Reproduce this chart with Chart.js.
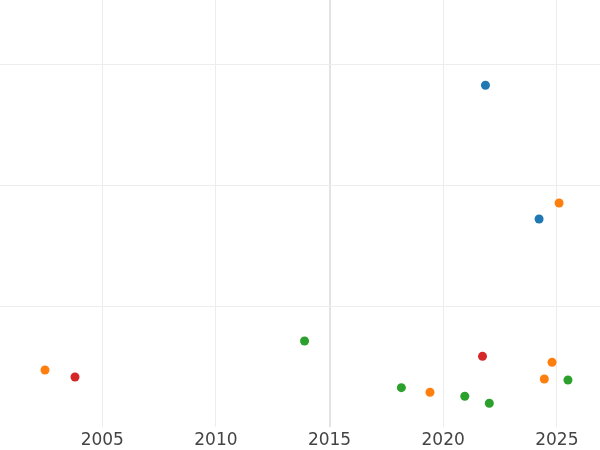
<!DOCTYPE html>
<html>
<head>
<meta charset="utf-8">
<script src="https://cdn.jsdelivr.net/npm/chart.js@4/dist/chart.umd.min.js"></script>
<style>
  html, body { margin: 0; padding: 0; background: #ffffff; }
  #wrap { width: 600px; height: 450px; position: relative; }
</style>
</head>
<body>
<div id="wrap"><canvas id="c"></canvas></div>
<script>
// Tick values
const xTicks = [2005, 2010, 2015, 2020, 2025];
const yTicks = [1, 2, 3];

// Series (x = year, y = value)
const blueX   = [2021.86, 2024.22];
const blueY   = [2.824, 1.719];
const orangeX = [2002.48, 2019.42, 2024.45, 2024.79, 2025.10];
const orangeY = [0.471, 0.287, 0.397, 0.535, 1.851];
const greenX  = [2013.90, 2018.16, 2020.95, 2022.03, 2025.49];
const greenY  = [0.711, 0.325, 0.254, 0.196, 0.388];
const redX    = [2003.80, 2021.73];
const redY    = [0.413, 0.584];

function pts(xs, ys) { return xs.map((x, i) => ({ x: x, y: ys[i] })); }
function ds(label, xs, ys, color) {
  return {
    label: label,
    data: pts(xs, ys),
    backgroundColor: color,
    borderColor: color,
    borderWidth: 0,
    pointRadius: 4.5,
    pointHoverRadius: 4.5
  };
}

new Chart(document.getElementById('c'), {
  type: 'scatter',
  data: {
    datasets: [
      ds('A', blueX, blueY, '#1f77b4'),
      ds('B', orangeX, orangeY, '#ff7f0e'),
      ds('C', greenX, greenY, '#2ca02c'),
      ds('D', redX, redY, '#d62728')
    ]
  },
  options: {
    responsive: true,
    maintainAspectRatio: false,
    animation: false,
    layout: { autoPadding: false, padding: { left: 0, right: 0, top: 0, bottom: 0 } },
    plugins: { legend: { display: false }, tooltip: { enabled: false } },
    scales: {
      x: {
        type: 'linear',
        min: 2000.5,
        max: 2026.9,
        afterBuildTicks: (s) => { s.ticks = xTicks.map(v => ({ value: v })); },
        afterFit: (s) => { s.height = 23; },
        grid: {
          color: (ctx) => (ctx.tick && ctx.tick.value === 2015) ? '#e3e3e3' : '#ededed',
          lineWidth: (ctx) => (ctx.tick && ctx.tick.value === 2015) ? 2 : 1,
          drawTicks: false
        },
        border: { display: false },
        ticks: {
          color: '#444444',
          font: { family: 'DejaVu Sans', size: 17, lineHeight: 1.0 },
          padding: 5,
          maxRotation: 0,
          callback: (v) => String(v)
        }
      },
      y: {
        type: 'linear',
        min: 0,
        max: 3.529,
        afterBuildTicks: (s) => { s.ticks = yTicks.map(v => ({ value: v })); },
        grid: { color: '#ededed', lineWidth: 1, drawTicks: false },
        border: { display: false },
        ticks: { display: false }
      }
    }
  }
});
</script>
</body>
</html>
